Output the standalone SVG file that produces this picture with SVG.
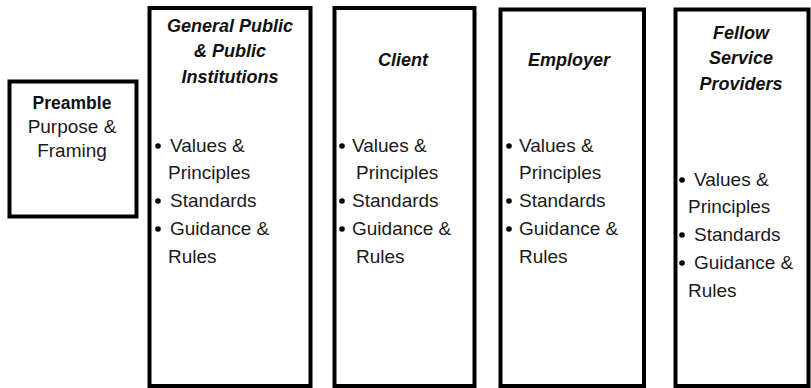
<svg xmlns="http://www.w3.org/2000/svg" width="811" height="388" viewBox="0 0 811 388">
  <style>
    .box { fill: #ffffff; stroke: #000000; stroke-width: 4; }
    .hd { font-family: "Liberation Sans", Arial, sans-serif; font-size: 18px; font-weight: bold; font-style: italic; fill: #111111; text-anchor: middle; }
    .pb { font-family: "Liberation Sans", Arial, sans-serif; font-size: 17.5px; font-weight: bold; fill: #111111; text-anchor: middle; }
    .tx { font-family: "Liberation Sans", Arial, sans-serif; font-size: 19px; fill: #1a1a1a; }
    .tc { font-family: "Liberation Sans", Arial, sans-serif; font-size: 19px; fill: #1a1a1a; text-anchor: middle; }
    .bl { fill: #000000; }
  </style>
  <rect width="811" height="388" fill="#ffffff"/>

  <!-- Preamble -->
  <g id="preamble">
    <rect class="box" x="9.5" y="81.5" width="127" height="135"/>
    <text class="pb" x="72" y="109">Preamble</text>
    <text class="tc" x="72" y="133">Purpose &amp;</text>
    <text class="tc" x="72" y="157">Framing</text>
  </g>

  <!-- General Public & Public Institutions -->
  <g id="general-public">
    <rect class="box" x="149.5" y="8" width="161" height="378"/>
    <text class="hd" x="230" y="32">General Public</text>
    <text class="hd" x="230" y="57">&amp; Public</text>
    <text class="hd" x="230" y="83">Institutions</text>
    <circle class="bl" cx="158" cy="146" r="2.8"/>
    <text class="tx" x="170" y="152">Values &amp;</text>
    <text class="tx" x="168" y="179">Principles</text>
    <circle class="bl" cx="158" cy="201" r="2.8"/>
    <text class="tx" x="170" y="207">Standards</text>
    <circle class="bl" cx="158" cy="229" r="2.8"/>
    <text class="tx" x="170" y="235">Guidance &amp;</text>
    <text class="tx" x="168" y="263">Rules</text>
  </g>

  <!-- Client -->
  <g id="client">
    <rect class="box" x="334.5" y="8" width="140" height="378"/>
    <text class="hd" x="403" y="66">Client</text>
    <circle class="bl" cx="342" cy="146" r="2.8"/>
    <text class="tx" x="352" y="152">Values &amp;</text>
    <text class="tx" x="356" y="179">Principles</text>
    <circle class="bl" cx="342" cy="201" r="2.8"/>
    <text class="tx" x="352" y="207">Standards</text>
    <circle class="bl" cx="342" cy="229" r="2.8"/>
    <text class="tx" x="352" y="235">Guidance &amp;</text>
    <text class="tx" x="356" y="263">Rules</text>
  </g>

  <!-- Employer -->
  <g id="employer">
    <rect class="box" x="500.5" y="9.5" width="143.5" height="376.5"/>
    <text class="hd" x="569" y="66">Employer</text>
    <circle class="bl" cx="509" cy="146" r="2.8"/>
    <text class="tx" x="519" y="152">Values &amp;</text>
    <text class="tx" x="519" y="179">Principles</text>
    <circle class="bl" cx="509" cy="201" r="2.8"/>
    <text class="tx" x="519" y="207">Standards</text>
    <circle class="bl" cx="509" cy="229" r="2.8"/>
    <text class="tx" x="519" y="235">Guidance &amp;</text>
    <text class="tx" x="519" y="263">Rules</text>
  </g>

  <!-- Fellow Service Providers -->
  <g id="fellow-service-providers">
    <rect class="box" x="675.5" y="9.5" width="133" height="376.5"/>
    <text class="hd" x="741" y="39">Fellow</text>
    <text class="hd" x="741" y="64">Service</text>
    <text class="hd" x="741" y="90">Providers</text>
    <circle class="bl" cx="682" cy="180" r="2.8"/>
    <text class="tx" x="694" y="186">Values &amp;</text>
    <text class="tx" x="688" y="213">Principles</text>
    <circle class="bl" cx="682" cy="235" r="2.8"/>
    <text class="tx" x="694" y="241">Standards</text>
    <circle class="bl" cx="682" cy="263" r="2.8"/>
    <text class="tx" x="694" y="269">Guidance &amp;</text>
    <text class="tx" x="688" y="297">Rules</text>
  </g>

  <!-- no connectors in this diagram -->
  <g id="connectors"/>
</svg>
